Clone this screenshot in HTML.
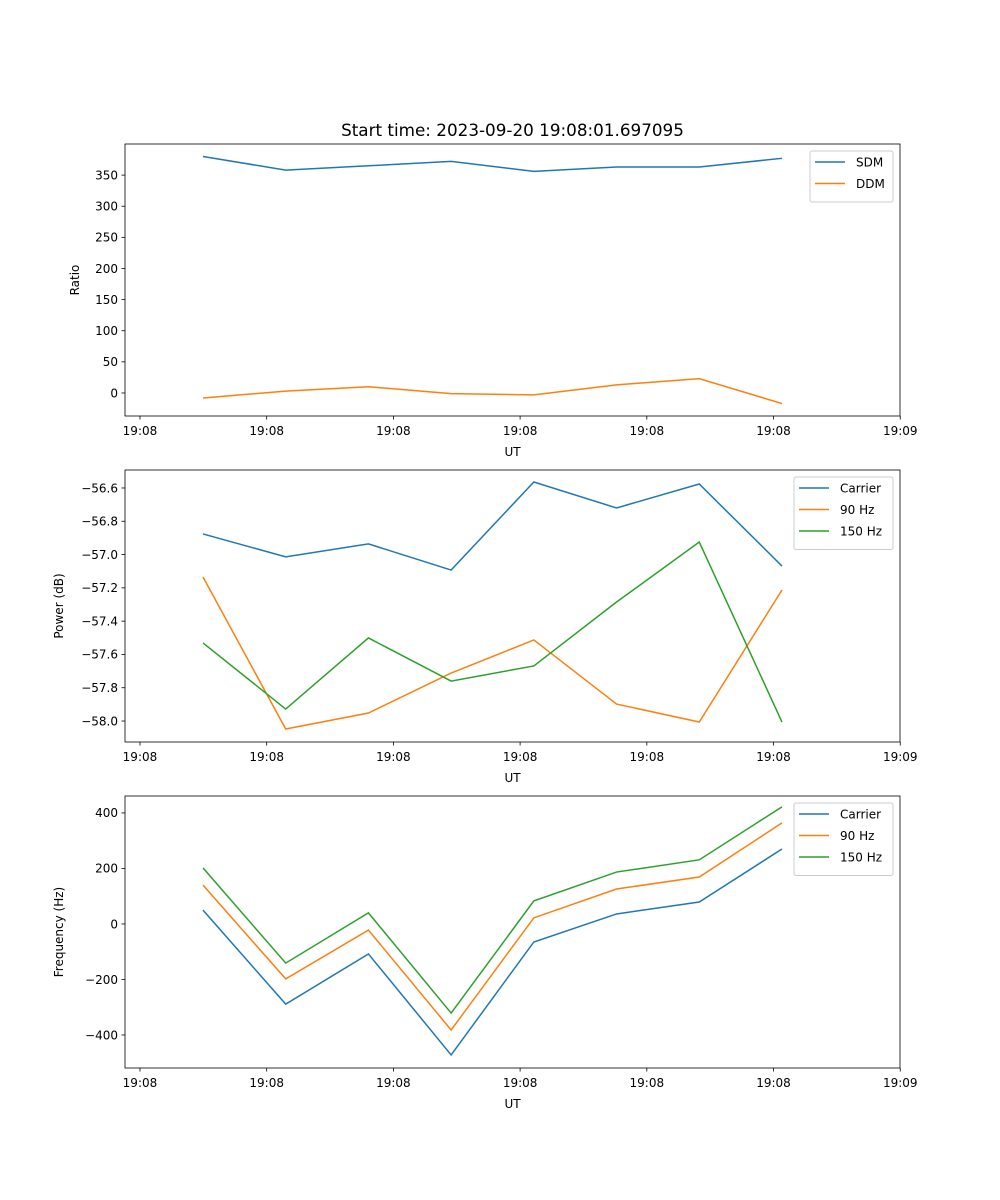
<!DOCTYPE html>
<html><head><meta charset="utf-8"><style>
body{margin:0;background:#fff}
svg{display:block;font-family:"DejaVu Sans","Liberation Sans",sans-serif}
</style></head><body>
<svg id="fig" width="1000" height="1200" xmlns="http://www.w3.org/2000/svg">
<rect width="1000" height="1200" fill="#fff"/>
<text x="512.5" y="136" font-size="16.8" text-anchor="middle">Start time: 2023-09-20 19:08:01.697095</text>
</svg>
<script>
const sampleIdx=[0,1,2,3,4,5,6,7];
const xTickPos=[-0.762,0.770,2.302,3.834,5.366,6.898,8.430];
const xTickLabels=["19:08","19:08","19:08","19:08","19:08","19:08","19:09"];
const sdm=[380,358,365,372,356,363,363,377];
const ddm=[-8,3,10,-1,-3,13,23,-17];
const ratioTicks=[0,50,100,150,200,250,300,350];
const pwrCarrier=[-56.876,-57.014,-56.936,-57.093,-56.564,-56.72,-56.576,-57.069];
const pwr90=[-57.135,-58.048,-57.952,-57.712,-57.513,-57.898,-58.006,-57.213];
const pwr150=[-57.531,-57.928,-57.501,-57.76,-57.669,-57.285,-56.925,-58.006];
const pwrTicks=[-58.0,-57.8,-57.6,-57.4,-57.2,-57.0,-56.8,-56.6];
const frqCarrier=[50,-289,-108,-472,-65,36,79,270];
const frq90=[140,-198,-22,-382,22,126,169,364];
const frq150=[202,-141,40,-321,83,187,231,422];
const frqTicks=[-400,-200,0,200,400];

const NS="http://www.w3.org/2000/svg";
const svg=document.getElementById('fig');
function mk(tag,attrs,parent){const e=document.createElementNS(NS,tag);for(const k in attrs)e.setAttribute(k,attrs[k]);(parent||svg).appendChild(e);return e;}
const L=125,R=900,xmin=-0.943,xmax=8.427;
const xs=v=>L+(v-xmin)/(xmax-xmin)*(R-L);
const C={b:'#1f77b4',o:'#ff7f0e',g:'#2ca02c'};
function panel(name,top,bot,ymin,ymax,ticks,fmt,ylabel,series,legX,legW){
  const g=mk('g',{});
  
  
  const ys=v=>bot-(v-ymin)/(ymax-ymin)*(bot-top);
  xTickPos.forEach((t,i)=>{const x=xs(t);
    mk('line',{x1:x,x2:x,y1:bot,y2:bot+3.5,stroke:'#000','stroke-width':0.8},g);
    const tx=mk('text',{x:x,y:bot+19,'font-size':12,'text-anchor':'middle'},g);tx.textContent=xTickLabels[i];
    
    });
  ticks.forEach(v=>{const y=ys(v);
    mk('line',{x1:L-3.5,x2:L,y1:y,y2:y,stroke:'#000','stroke-width':0.8},g);
    const tx=mk('text',{x:L-7,y:y+4.3,'font-size':12,'text-anchor':'end'},g);tx.textContent=fmt(v);
    
    });
  const xl=mk('text',{x:512.5,y:bot+40,'font-size':12,'text-anchor':'middle'},g);xl.textContent='UT';
  
  
  const yl=mk('text',{x:0,y:0,'font-size':12,'text-anchor':'middle',transform:`translate(${name==='ratio-panel'?79:63},${(top+bot)/2}) rotate(-90)`},g);yl.textContent=ylabel;
  
  
  series.forEach(s=>{
    const p=mk('polyline',{points:s.v.map((v,i)=>xs(sampleIdx[i])+','+ys(v)).join(' '),fill:'none',stroke:s.c,'stroke-width':1.5},g);
    
    });
  mk('rect',{x:L,y:top,width:R-L,height:bot-top,fill:'none',stroke:'#000','stroke-width':0.8},g);
  const lg=mk('g',{},g);
  
  
  const lt=top+7;
  mk('rect',{x:legX,y:lt,width:legW,height:8+series.length*21.5,rx:2,fill:'#fff','fill-opacity':0.8,stroke:'#ccc','stroke-width':1},lg);
  series.forEach((s,i)=>{const y=lt+11+i*21.5;
    mk('line',{x1:legX+5,x2:legX+35,y1:y,y2:y,stroke:s.c,'stroke-width':1.5},lg);
    const t=mk('text',{x:legX+46,y:y+4.3,'font-size':12},lg);t.textContent=s.n;
    
    });
}
panel('ratio-panel',144,416,-37,400,ratioTicks,v=>String(v),'Ratio',[{n:'SDM',v:sdm,c:C.b},{n:'DDM',v:ddm,c:C.o}],810,83);
panel('power-panel',470,742,-58.126,-56.492,pwrTicks,v=>(v<0?'\u2212':'')+Math.abs(v).toFixed(1),'Power (dB)',[{n:'Carrier',v:pwrCarrier,c:C.b},{n:'90 Hz',v:pwr90,c:C.o},{n:'150 Hz',v:pwr150,c:C.g}],794,99);
panel('frequency-panel',796,1068,-519,461,frqTicks,v=>(v<0?'\u2212':'')+Math.abs(v),'Frequency (Hz)',[{n:'Carrier',v:frqCarrier,c:C.b},{n:'90 Hz',v:frq90,c:C.o},{n:'150 Hz',v:frq150,c:C.g}],794,99);
</script>
</body></html>
